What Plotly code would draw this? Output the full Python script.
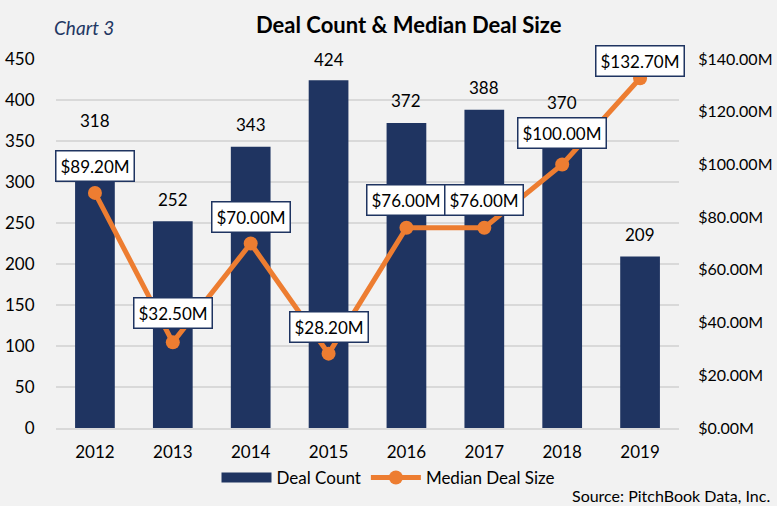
import plotly.graph_objects as go

years = ["2012", "2013", "2014", "2015", "2016", "2017", "2018", "2019"]
deal_count = [318, 252, 343, 424, 372, 388, 370, 209]
median_size = [89.2, 32.5, 70.0, 28.2, 76.0, 76.0, 100.0, 132.7]
count_label_shift = [47, 22, 22, 21, 22, 22, 22, 22]
size_label_shift = [27, 29, 27, 27, 28, 28, 31, 17]

NAVY = "#1F3461"
ORANGE = "#ED7D31"
BG = "#F2F2F2"
FONT = "Lato"

xpos = list(range(len(years)))

fig = go.Figure()
fig.add_trace(go.Bar(x=xpos, y=deal_count, name="Deal Count", marker_color=NAVY,
                     marker_line_width=0, yaxis="y", showlegend=False, legendgroup="dc"))
# legend swatch (wide navy rectangle, as in the reference legend)
fig.add_trace(go.Scatter(x=[None], y=[None], name="Deal Count", mode="lines",
                         line=dict(color=NAVY, width=15), legendgroup="dc", showlegend=True))
fig.add_trace(go.Scatter(x=xpos, y=median_size, name="Median Deal Size", mode="lines+markers",
                         line=dict(color=ORANGE, width=5), marker=dict(size=14, color=ORANGE),
                         yaxis="y2"))

ann = []
for x, v, s in zip(xpos, deal_count, count_label_shift):
    ann.append(dict(x=x, y=v, xref="x", yref="y", text=str(v), showarrow=False,
                    yshift=s, font=dict(size=17, color="#000000")))
for x, v, s in zip(xpos, median_size, size_label_shift):
    ann.append(dict(x=x, y=v, xref="x", yref="y2", text=f"${v:.2f}M", showarrow=False,
                    yshift=s, font=dict(size=17, color="#000000"), bgcolor="#FFFFFF",
                    bordercolor=NAVY, borderwidth=1.5, borderpad=4))
ann.append(dict(x=0.5, y=1.0, xref="paper", yref="paper", xanchor="center", yanchor="middle",
                xshift=41, yshift=35, text="<b>Deal Count & Median Deal Size</b>", showarrow=False,
                font=dict(size=22, color="#000000")))
ann.append(dict(x=0, y=1.0, xref="paper", yref="paper", xanchor="left", yanchor="middle",
                xshift=-4, yshift=32, text="<i>Chart 3</i>", showarrow=False,
                font=dict(size=19, color="#1F3864")))
ann.append(dict(x=1.0, y=0, xref="paper", yref="paper", xanchor="right", yanchor="middle",
                xshift=93, yshift=-67, text="Source: PitchBook Data, Inc.", showarrow=False,
                font=dict(size=16, color="#000000")))
fig.update_layout(annotations=ann)

fig.update_layout(
    width=777, height=506,
    paper_bgcolor=BG, plot_bgcolor=BG,
    margin=dict(l=56, r=98, t=59, b=78, autoexpand=False),
    font=dict(family=FONT, size=17, color="#000000"),
    bargap=0.49,
    showlegend=True,
    legend=dict(orientation="h", xref="container", yref="container", x=0.50, xanchor="center",
                y=28 / 506, yanchor="middle", font=dict(size=17), itemwidth=50,
                bgcolor="rgba(0,0,0,0)", traceorder="normal"),
    xaxis=dict(range=[-0.5, len(years) - 0.5], tickmode="array", tickvals=xpos, ticktext=years,
               showgrid=False, showline=True, linecolor="#D9D9D9", linewidth=2, zeroline=False,
               ticks="outside", ticklen=8, tickcolor=BG, tickfont=dict(size=17)),
    yaxis=dict(range=[0, 450], dtick=50, showgrid=True, gridcolor="#D9D9D9", gridwidth=2,
               zeroline=False, ticks="outside", ticklen=17, tickcolor=BG, tickfont=dict(size=17)),
    yaxis2=dict(range=[0, 140], dtick=20, overlaying="y", side="right", showgrid=False,
                zeroline=False, tickprefix="$", tickformat=".2f", ticksuffix="M",
                ticks="outside", ticklen=15, tickcolor=BG, tickfont=dict(size=16)),
)

fig.write_html("out.html", config={"displayModeBar": False},
               post_script="document.body.style.margin='0';document.body.style.background='#F2F2F2';")
